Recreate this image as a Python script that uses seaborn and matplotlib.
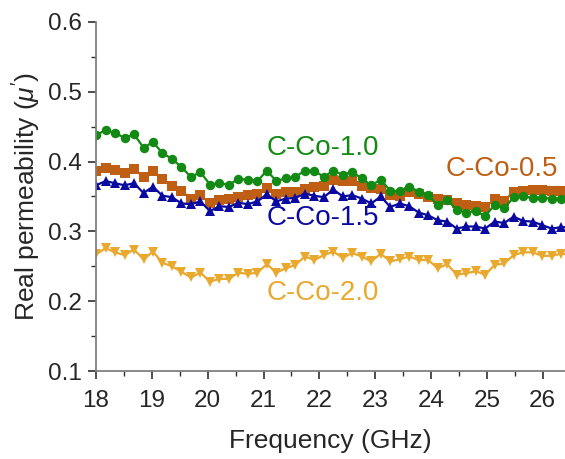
import numpy as np
import pandas as pd
import matplotlib
matplotlib.use("Agg")
import matplotlib.pyplot as plt
import seaborn as sns
from matplotlib.ticker import MultipleLocator

# Frequency sweep, 18-26.5 GHz in 51 steps
freq = np.linspace(18.0, 26.5, 51)

c_co_05 = [0.387, 0.391, 0.388, 0.384, 0.389, 0.378, 0.387, 0.375, 0.365, 0.358,
           0.347, 0.352, 0.340, 0.345, 0.346, 0.349, 0.352, 0.353, 0.362, 0.353,
           0.356, 0.357, 0.360, 0.363, 0.365, 0.374, 0.372, 0.372, 0.365, 0.362,
           0.360, 0.352, 0.351, 0.356, 0.353, 0.349, 0.346, 0.345, 0.340, 0.338,
           0.336, 0.335, 0.346, 0.344, 0.357, 0.358, 0.359, 0.359, 0.358, 0.358,
           0.357]
c_co_10 = [0.438, 0.445, 0.441, 0.434, 0.439, 0.420, 0.428, 0.412, 0.404, 0.392,
           0.378, 0.385, 0.367, 0.369, 0.367, 0.375, 0.374, 0.372, 0.387, 0.372,
           0.376, 0.378, 0.387, 0.387, 0.378, 0.387, 0.381, 0.385, 0.376, 0.366,
           0.374, 0.358, 0.358, 0.364, 0.357, 0.352, 0.338, 0.345, 0.331, 0.327,
           0.329, 0.322, 0.338, 0.333, 0.349, 0.350, 0.348, 0.348, 0.347, 0.347,
           0.346]
c_co_15 = [0.366, 0.372, 0.369, 0.366, 0.369, 0.355, 0.364, 0.351, 0.349, 0.340,
           0.339, 0.343, 0.329, 0.336, 0.335, 0.341, 0.339, 0.343, 0.353, 0.343,
           0.347, 0.348, 0.354, 0.351, 0.349, 0.360, 0.350, 0.352, 0.347, 0.340,
           0.350, 0.335, 0.340, 0.336, 0.327, 0.323, 0.316, 0.314, 0.304, 0.307,
           0.307, 0.304, 0.314, 0.312, 0.321, 0.315, 0.314, 0.309, 0.304, 0.306,
           0.306]
c_co_20 = [0.267, 0.276, 0.270, 0.266, 0.274, 0.260, 0.271, 0.255, 0.250, 0.242,
           0.234, 0.241, 0.228, 0.232, 0.232, 0.241, 0.239, 0.241, 0.253, 0.241,
           0.247, 0.252, 0.264, 0.259, 0.266, 0.271, 0.262, 0.269, 0.264, 0.257,
           0.268, 0.257, 0.260, 0.264, 0.259, 0.259, 0.247, 0.253, 0.238, 0.240,
           0.243, 0.238, 0.252, 0.254, 0.266, 0.270, 0.270, 0.265, 0.265, 0.268,
           0.267]

names = ["C-Co-0.5", "C-Co-1.0", "C-Co-1.5", "C-Co-2.0"]
colors = ["#bf5f14", "#138a13", "#0a0aa0", "#e8a92e"]
markers = ["s", "o", "^", "v"]

df = pd.concat([
    pd.DataFrame({"Frequency": freq, "mu": vals, "sample": name})
    for name, vals in zip(names, [c_co_05, c_co_10, c_co_15, c_co_20])
], ignore_index=True)

sns.set_style("ticks")
plt.rcParams["font.family"] = ["Liberation Sans", "DejaVu Sans"]
plt.rcParams["mathtext.fontset"] = "custom"
plt.rcParams["mathtext.it"] = "Liberation Sans:italic"
plt.rcParams["mathtext.rm"] = "Liberation Sans"

fig = plt.figure(figsize=(5.65, 4.59), dpi=100)
ax = fig.add_axes([0.170, 0.1917, 0.830, 0.7605])

for name, col, mk in zip(names, colors, markers):
    sub = df[df["sample"] == name]
    sns.lineplot(data=sub, x="Frequency", y="mu", ax=ax, color=col,
                 marker=mk, markersize=6.8, markeredgewidth=0,
                 linewidth=1.6, legend=False)

ax.set_xlim(18, 26.4)
ax.set_ylim(0.1, 0.6)
ax.xaxis.set_major_locator(MultipleLocator(1))
ax.xaxis.set_minor_locator(MultipleLocator(0.5))
ax.yaxis.set_major_locator(MultipleLocator(0.1))
ax.yaxis.set_minor_locator(MultipleLocator(0.05))
ax.set_yticks(np.arange(0.1, 0.61, 0.1))
ax.set_yticklabels([f"{v:.1f}" for v in np.arange(0.1, 0.61, 0.1)])

sns.despine(ax=ax)
for side in ["left", "bottom"]:
    ax.spines[side].set_color("#808080")
    ax.spines[side].set_linewidth(1.3)
ax.tick_params(axis="both", which="major", direction="out", length=6,
               width=1.2, color="#303030", labelsize=17.5, pad=4)
ax.tick_params(axis="x", which="major", pad=8)
ax.tick_params(axis="both", which="minor", direction="out", length=3.5,
               width=1.0, color="#303030")

ax.set_xlabel("Frequency (GHz)", fontsize=19, labelpad=12)
ax.set_ylabel("Real permeability ($\\mu'$)", fontsize=19, labelpad=4)

label_pos = {"C-Co-1.0": (21.06, 0.419), "C-Co-0.5": (24.27, 0.389),
             "C-Co-1.5": (21.06, 0.319), "C-Co-2.0": (21.06, 0.212)}
for name, col in zip(names, colors):
    x, y = label_pos[name]
    ax.text(x, y, name, color=col, fontsize=20, ha="left", va="center")

fig.savefig("out.png", dpi=100)
